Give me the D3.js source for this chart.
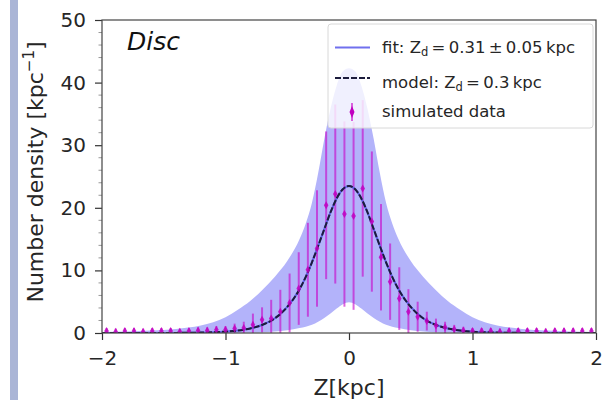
<!DOCTYPE html>
<html><head><meta charset="utf-8">
<script src="https://cdn.jsdelivr.net/npm/d3@7"></script>
<style>body{margin:0;background:#fff}svg{display:block}</style>
</head><body>
<script>
// ---- data ----
const binZ = [-1.963,-1.889,-1.815,-1.741,-1.667,-1.593,-1.519,-1.444,-1.370,-1.296,-1.222,-1.148,-1.074,-1.000,-0.926,-0.852,-0.778,-0.704,-0.630,-0.556,-0.481,-0.407,-0.333,-0.259,-0.185,-0.111,-0.037,0.037,0.111,0.185,0.259,0.333,0.407,0.481,0.556,0.630,0.704,0.778,0.852,0.926,1.000,1.074,1.148,1.222,1.296,1.370,1.444,1.519,1.593,1.667,1.741,1.815,1.889,1.963];
const dataVal = [0.3,0.2,0.3,0.3,0.2,0.3,0.3,0.3,0.2,0.3,0.4,0.4,0.5,0.5,0.7,0.8,1.3,2.1,2.3,3.4,4.8,7.1,10.1,13.5,20.4,22.2,19.0,18.7,23.1,17.8,12.1,8.2,5.5,3.4,2.6,1.9,1.2,0.9,0.6,0.4,0.3,0.3,0.3,0.2,0.3,0.3,0.3,0.3,0.2,0.3,0.3,0.3,0.3,0.3];
const dataErr = [0.5,0.5,0.5,0.5,0.5,0.5,0.5,0.5,0.5,0.5,0.5,0.5,0.6,0.6,0.8,1.0,1.8,2.0,3.0,3.5,4.7,5.8,7.5,9.3,11.8,14.3,14.8,15.0,14.1,11.2,8.5,6.1,5.0,3.6,2.4,1.5,1.1,0.9,0.7,0.6,0.5,0.5,0.5,0.5,0.5,0.5,0.5,0.5,0.5,0.5,0.5,0.5,0.5,0.5];
const curveZ = [-2.0,-1.8,-1.6,-1.4,-1.2,-1.1,-1.0,-0.9,-0.8,-0.7,-0.6,-0.5,-0.4,-0.35,-0.3,-0.25,-0.2,-0.15,-0.1,-0.05,0,0.05,0.1,0.15,0.2,0.25,0.3,0.35,0.4,0.5,0.6,0.7,0.8,0.9,1.0,1.1,1.2,1.4,1.6,1.8,2.0];
const modelVal = [0,0.002,0.006,0.02,0.065,0.12,0.22,0.40,0.73,1.31,2.35,4.16,7.0,8.97,11.3,13.9,16.6,19.25,21.5,22.97,23.5,22.97,21.5,19.25,16.6,13.9,11.3,8.97,7.0,4.16,2.35,1.31,0.73,0.40,0.22,0.12,0.065,0.02,0.006,0.002,0];
const bandUpper = [0.15,0.22,0.38,0.65,1.2,1.7,2.5,3.7,5.1,6.9,9.0,11.5,15.0,17.5,20.8,25.5,31.0,35.8,39.5,41.8,42.3,41.8,39.5,35.8,31.0,25.5,20.8,17.5,15.0,11.5,9.0,6.9,5.1,3.7,2.5,1.7,1.2,0.65,0.38,0.22,0.15];
const bandLower = [0,0,0,0,0,0.01,0.02,0.03,0.06,0.12,0.25,0.45,0.8,1.0,1.3,1.8,2.4,3.1,3.9,4.6,4.9,4.6,3.9,3.1,2.4,1.8,1.3,1.0,0.8,0.45,0.25,0.12,0.06,0.03,0.02,0.01,0,0,0,0,0];
const xTicks = [-2,-1,0,1,2];
const yTicks = [0,10,20,30,40,50];
const yMinor = [2,4,6,8,12,14,16,18,22,24,26,28,32,34,36,38,42,44,46,48];

const W = 605, H = 400;
const svg = d3.select("body").append("svg").attr("width", W).attr("height", H)
  .style("font-family", "'DejaVu Sans', sans-serif");

// decorative strip on left
svg.append("rect").attr("x", 10).attr("y", 0).attr("width", 8).attr("height", H).attr("fill", "#aab5d6");

const m = {l: 102, r: 596, t: 20, b: 333};
const x = d3.scaleLinear().domain([-2, 2]).range([m.l, m.r]);
const y = d3.scaleLinear().domain([0, 50]).range([m.b, m.t]);

svg.append("clipPath").attr("id", "clip").append("rect")
  .attr("x", m.l).attr("y", m.t).attr("width", m.r - m.l).attr("height", m.b - m.t);
const plot = svg.append("g").attr("clip-path", "url(#clip)");

// band
const idx = d3.range(curveZ.length);
plot.append("path")
  .attr("d", d3.area().x(i => x(curveZ[i])).y0(i => y(bandLower[i])).y1(i => y(bandUpper[i])).curve(d3.curveMonotoneX)(idx))
  .attr("fill", "rgb(179,179,250)");

// error bars
const di = d3.range(binZ.length);
plot.selectAll("line.err").data(di).join("line").attr("class", "err")
  .attr("x1", i => x(binZ[i])).attr("x2", i => x(binZ[i]))
  .attr("y1", i => y(dataVal[i] - dataErr[i])).attr("y2", i => y(dataVal[i] + dataErr[i]))
  .attr("stroke", "#c800c8").attr("stroke-opacity", 0.6).attr("stroke-width", 2);

// fit line and model line
const line = d3.line().x(i => x(curveZ[i])).y(i => y(modelVal[i])).curve(d3.curveMonotoneX);
plot.append("path").attr("d", line(idx)).attr("fill", "none")
  .attr("stroke", "#6060e8").attr("stroke-width", 2);
plot.append("path").attr("d", line(idx)).attr("fill", "none")
  .attr("stroke", "#1c1c3c").attr("stroke-width", 2).attr("stroke-dasharray", "6,2");

// markers (thin diamonds)
const dia = (cx, cy, w, h) => `M${cx},${cy - h}L${cx + w},${cy}L${cx},${cy + h}L${cx - w},${cy}Z`;
plot.selectAll("path.mk").data(di).join("path").attr("class", "mk")
  .attr("d", i => dia(x(binZ[i]), y(dataVal[i]), 2.3, 4))
  .attr("fill", "#c000c0").attr("fill-opacity", 0.85);

// axes
const txtCol = "#262626";
const ax = svg.append("g").attr("transform", `translate(0,${m.b})`)
  .call(d3.axisBottom(x).tickValues(xTicks).tickSize(7).tickPadding(11).tickFormat(d => d < 0 ? "\u2212" + Math.abs(d) : d));
const ay = svg.append("g").attr("transform", `translate(${m.l},0)`)
  .call(d3.axisLeft(y).tickValues(yTicks).tickSize(7).tickPadding(9));
[ax, ay].forEach(g => {
  g.select(".domain").remove();
  g.selectAll("line").attr("stroke", "#333").attr("stroke-width", 1.2);
  g.selectAll("text").attr("font-size", 20).attr("fill", txtCol).style("font-family", "'DejaVu Sans', sans-serif");
});
svg.append("g").selectAll("line").data(yMinor).join("line")
  .attr("x1", m.l - 3.5).attr("x2", m.l).attr("y1", d => y(d)).attr("y2", d => y(d))
  .attr("stroke", "#999").attr("stroke-width", 1);

// spines
svg.append("rect").attr("x", m.l).attr("y", m.t).attr("width", m.r - m.l).attr("height", m.b - m.t)
  .attr("fill", "none").attr("stroke", "#444").attr("stroke-width", 1.2);

// axis labels
svg.append("text").attr("x", (m.l + m.r) / 2).attr("y", 395).attr("text-anchor", "middle")
  .attr("font-size", 22).attr("fill", txtCol).text("Z[kpc]");
const yl = svg.append("text").attr("transform", "translate(43,172) rotate(-90)").attr("text-anchor", "middle")
  .attr("font-size", 22).attr("fill", txtCol);
yl.append("tspan").text("Number density [kpc");
yl.append("tspan").attr("font-size", 15).attr("dy", -9).text("\u22121");
yl.append("tspan").attr("dy", 9).text("]");

// Disc label
svg.append("text").attr("x", 127).attr("y", 50).attr("font-size", 25).attr("font-style", "italic")
  .attr("fill", "#111").text("Disc");

// legend
const lg = svg.append("g");
lg.append("rect").attr("x", 328).attr("y", 24).attr("width", 265).attr("height", 104).attr("rx", 3)
  .attr("fill", "#fff").attr("fill-opacity", 0.8).attr("stroke", "#d8d8d8").attr("stroke-width", 1);
lg.append("line").attr("x1", 335).attr("x2", 370).attr("y1", 47.5).attr("y2", 47.5)
  .attr("stroke", "#7070ee").attr("stroke-width", 2);
lg.append("line").attr("x1", 335).attr("x2", 370).attr("y1", 78).attr("y2", 78)
  .attr("stroke", "#1c1c3c").attr("stroke-width", 2).attr("stroke-dasharray", "6,2");
lg.append("line").attr("x1", 352).attr("x2", 352).attr("y1", 103).attr("y2", 121)
  .attr("stroke", "#c800c8").attr("stroke-opacity", 0.6).attr("stroke-width", 2);
lg.append("path").attr("d", dia(352, 112, 2.5, 6)).attr("fill", "#c000c0");
const fs = 16.5;
const t1 = lg.append("text").attr("x", 382).attr("y", 53).attr("font-size", fs).attr("fill", txtCol);
t1.append("tspan").text("fit: Z");
t1.append("tspan").attr("font-size", 11.5).attr("dy", 3).text("d");
t1.append("tspan").attr("dy", -3).text("\u2009=\u20090.31\u2009\u00b1\u20090.05\u2009kpc");
const t2 = lg.append("text").attr("x", 382).attr("y", 88).attr("font-size", fs).attr("fill", txtCol);
t2.append("tspan").text("model: Z");
t2.append("tspan").attr("font-size", 11.5).attr("dy", 3).text("d");
t2.append("tspan").attr("dy", -3).text("\u2009=\u20090.3\u2009kpc");
lg.append("text").attr("x", 382).attr("y", 117).attr("font-size", fs).attr("fill", txtCol).text("simulated data");
</script>
</body></html>
